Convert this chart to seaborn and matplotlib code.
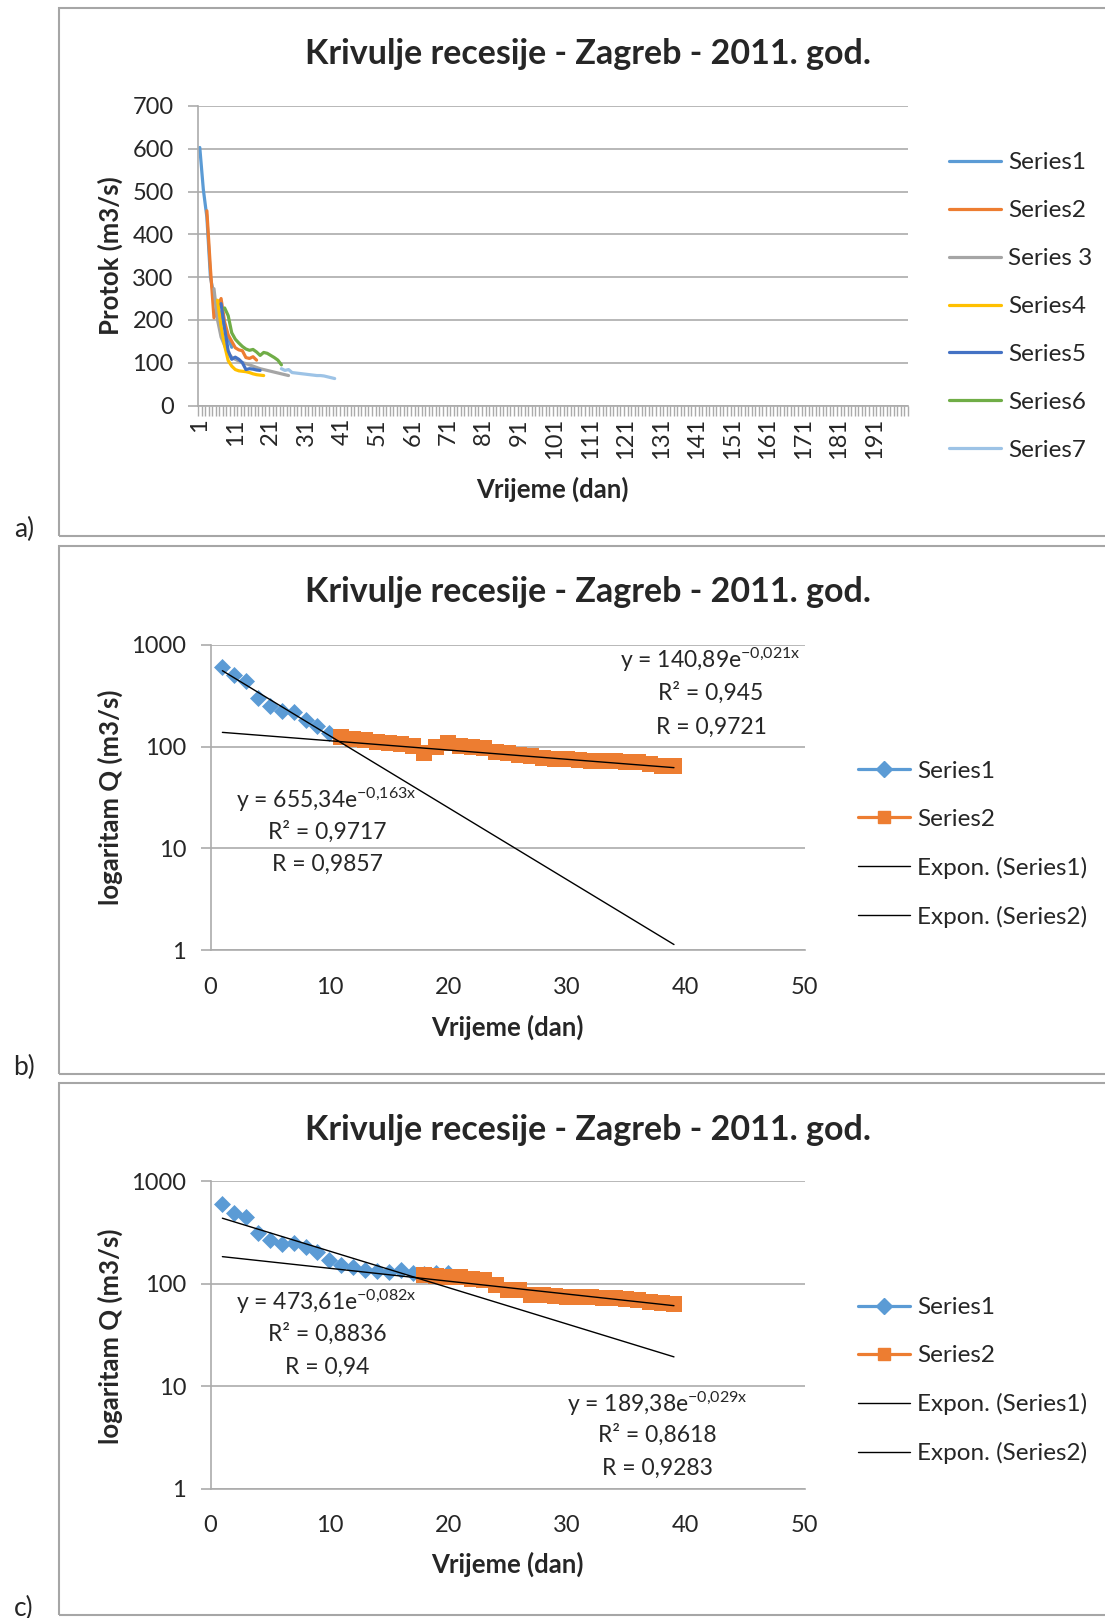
import numpy as np
import pandas as pd
import seaborn as sns
import matplotlib
matplotlib.use('Agg')
import matplotlib.pyplot as plt
from matplotlib.lines import Line2D
from matplotlib.patches import Rectangle

# =========================
# Data
# =========================

# a) recession segments (first day + daily flow)
names_a = ['Series1', 'Series2', 'Series 3', 'Series4', 'Series5', 'Series6', 'Series7']
colors_a = ['#5B9BD5', '#ED7D31', '#A5A5A5', '#FFC000', '#4472C4', '#70AD47', '#9DC3E6']
start_a = [1, 3, 5, 6, 7, 8, 24]
s1_a = [603, 505, 440, 300, 255, 225, 215, 183, 158, 136]
s2_a = [455, 320, 205, 230, 250, 195, 165, 150, 135, 130, 128, 112, 110, 114, 106]
s3_a = [273, 200, 160, 140, 122, 113, 108, 104, 100, 98, 95, 92, 89, 86, 84, 82, 80,
        78, 76, 74, 72, 70]
s4_a = [246, 185, 140, 105, 92, 84, 81, 80, 79, 77, 74, 72, 71, 70]
s5_a = [238, 180, 128, 108, 113, 108, 100, 84, 86, 85, 83, 82]
s6_a = [228, 210, 170, 155, 146, 138, 132, 129, 131, 125, 117, 124, 122, 117, 112, 106, 95]
s7_a = [86, 82, 84, 77, 76, 75, 74, 73, 72, 71, 70, 70, 69, 67, 65, 63]
series_a = [s1_a, s2_a, s3_a, s4_a, s5_a, s6_a, s7_a]
xticks_a = list(range(1, 192, 10))

# b) split at day 10/11
days_b1 = list(range(1, 11))
q_b1 = [610, 505, 440, 300, 252, 225, 220, 183, 158, 136]
days_b2 = list(range(11, 40))
q_b2 = [123, 120, 116, 112, 109, 105, 102, 86, 100, 108, 102, 100, 96, 89, 86, 83, 80,
        78, 76, 75, 74, 73, 72, 72, 71, 70, 67, 65, 64]
fit_b = [(655.34, -0.163), (140.89, -0.021)]

# c) split at day 17/18
days_c1 = list(range(1, 21))
q_c1 = [601, 488, 452, 311, 268, 245, 248, 230, 206, 171, 152, 145, 136, 134, 131, 136,
        128, 125, 127, 127]
days_c2 = list(range(18, 40))
q_c2 = [122, 118, 117, 117, 111, 110, 97, 87, 87, 78, 77, 76, 75, 74, 74, 73, 72, 71,
        69, 67, 65, 64]
fit_c = [(473.61, -0.082), (189.38, -0.029)]

# =========================
# Style
# =========================
sns.set_theme(style='white')
plt.rcParams['font.family'] = ['Lato', 'DejaVu Sans']
plt.rcParams['mathtext.fontset'] = 'custom'
plt.rcParams['mathtext.rm'] = 'Lato'
plt.rcParams['mathtext.default'] = 'regular'

W, H = 1105, 1618
GRID = '#ABABAB'
BLUE, ORANGE = '#5B9BD5', '#ED7D31'
FS_TICK, FS_LAB, FS_TITLE, FS_LEG, FS_NOTE = 17, 18.5, 24.5, 17.5, 16.5

fig = plt.figure(figsize=(W / 100, H / 100), dpi=100)


def px_axes(left, top, right, bottom):
    return fig.add_axes([left / W, 1 - bottom / H, (right - left) / W, (bottom - top) / H])


def ftext(x, y, s, **kw):
    fig.text(x / W, 1 - y / H, s, ha='center', va='center', **kw)


def style_axes(ax):
    for side in ['top', 'right']:
        ax.spines[side].set_visible(False)
    for side in ['left', 'bottom']:
        ax.spines[side].set_color(GRID)
        ax.spines[side].set_linewidth(1.2)
    ax.yaxis.grid(True, color=GRID, linewidth=1.2)
    ax.xaxis.grid(False)
    ax.set_xlabel('')
    ax.set_ylabel('')
    ax.tick_params(axis='y', which='both', length=7, width=1.2, color=GRID,
                   pad=10.5, labelsize=FS_TICK, left=True)


def add_legend(ax, handles, labels, x, yc):
    ax.legend(handles, labels, loc='center left', bbox_to_anchor=(x / W, 1 - yc / H),
              bbox_transform=fig.transFigure, frameon=False, fontsize=FS_LEG,
              handlelength=2.15, handletextpad=0.28, labelspacing=1.11,
              borderpad=0, borderaxespad=0)


# panel frames and letters
for top, bottom, letter in [(8, 536, 'a)'), (546, 1074, 'b)'), (1083, 1615, 'c)')]:
    fig.add_artist(Rectangle((59 / W, 1 - bottom / H), (W + 10 - 59) / W, (bottom - top) / H,
                             transform=fig.transFigure, fill=False,
                             edgecolor='#A6A6A6', linewidth=1.5))
    ftext(24, bottom - 7, letter, fontsize=19)

title = 'Krivulje recesije - Zagreb - 2011. god.'

# =========================
# a) line chart
# =========================
rows = []
for name, start, vals in zip(names_a, start_a, series_a):
    for i, v in enumerate(vals):
        rows.append({'day': start + i, 'Q': v, 'series': name})
df_a = pd.DataFrame(rows)

ax = px_axes(198, 106, 908, 405.5)
sns.lineplot(data=df_a, x='day', y='Q', hue='series', hue_order=names_a,
             palette=colors_a, linewidth=2.3, legend=False, ax=ax)
ax.set_xlim(0.72, 200.5)
ax.set_ylim(0, 700)
ax.set_yticks(range(0, 701, 100))
style_axes(ax)
ax.set_xticks(xticks_a)
ax.set_xticks(np.arange(0.5, 201, 1), minor=True)
ax.set_xticklabels([str(t) for t in xticks_a], rotation=90)
ax.tick_params(axis='x', which='both', length=7, width=1, color=GRID, pad=4,
               labelsize=FS_TICK, bottom=True)
ax.tick_params(axis='x', which='major', length=0, pad=9)

ftext(588, 54, title, fontsize=FS_TITLE, fontweight='bold')
ftext(110, 256, 'Protok (m3/s)', fontsize=FS_LAB, fontweight='bold', rotation=90)
ftext(552, 489, 'Vrijeme (dan)', fontsize=FS_LAB, fontweight='bold')

handles = [Line2D([0], [0], color=c, lw=2.3) for c in colors_a]
add_legend(ax, handles, names_a, 949, 306.5)


# =========================
# b) and c) log charts with exponential trends
# =========================
def log_panel(top, bottom, d1, q1, d2, q2, fits):
    ax = px_axes(210.5, top, 804.7, bottom)
    sns.scatterplot(x=d1, y=q1, marker='D', s=75, color=BLUE, edgecolor=BLUE,
                    linewidth=0, ax=ax, zorder=3)
    sns.scatterplot(x=d2, y=q2, marker='s', s=120, color=ORANGE, edgecolor=ORANGE,
                    linewidth=0, ax=ax, zorder=4)
    xt = np.linspace(1, 39, 60)
    for a, k in fits:
        sns.lineplot(x=xt, y=a * np.exp(k * xt), color='black', linewidth=1.0,
                     ax=ax, zorder=5)
    ax.set_yscale('log')
    ax.set_xlim(0, 50)
    ax.set_ylim(1, 1000)
    ax.set_yticks([1, 10, 100, 1000])
    ax.set_yticklabels(['1', '10', '100', '1000'])
    ax.minorticks_off()
    ax.set_xticks(range(0, 51, 10))
    style_axes(ax)
    ax.tick_params(axis='x', length=0, pad=19, labelsize=FS_TICK)
    handles = [Line2D([0], [0], color=BLUE, lw=2.3, marker='D', markersize=8),
               Line2D([0], [0], color=ORANGE, lw=2.3, marker='s', markersize=9),
               Line2D([0], [0], color='black', lw=1.0),
               Line2D([0], [0], color='black', lw=1.0)]
    labels = ['Series1', 'Series2', 'Expon. (Series1)', 'Expon. (Series2)']
    add_legend(ax, handles, labels, 858, top + 199.5)
    return ax


log_panel(644.8, 950.2, days_b1, q_b1, days_b2, q_b2, fit_b)
ftext(588, 592, title, fontsize=FS_TITLE, fontweight='bold')
ftext(110, 797.5, 'logaritam Q (m3/s)', fontsize=FS_LAB, fontweight='bold', rotation=90)
ftext(507.6, 1027.5, 'Vrijeme (dan)', fontsize=FS_LAB, fontweight='bold')
ftext(710, 660, r'y = 140,89e$^{-0{,}021x}$', fontsize=FS_NOTE)
ftext(711, 693, 'R² = 0,945', fontsize=FS_NOTE)
ftext(711, 727, 'R = 0,9721', fontsize=FS_NOTE)
ftext(326, 800, r'y = 655,34e$^{-0{,}163x}$', fontsize=FS_NOTE)
ftext(327, 831.5, 'R² = 0,9717', fontsize=FS_NOTE)
ftext(327, 864.5, 'R = 0,9857', fontsize=FS_NOTE)

log_panel(1181.3, 1488.7, days_c1, q_c1, days_c2, q_c2, fit_c)
ftext(588, 1129.6, title, fontsize=FS_TITLE, fontweight='bold')
ftext(110, 1336, 'logaritam Q (m3/s)', fontsize=FS_LAB, fontweight='bold', rotation=90)
ftext(507.6, 1564, 'Vrijeme (dan)', fontsize=FS_LAB, fontweight='bold')
ftext(326, 1302, r'y = 473,61e$^{-0{,}082x}$', fontsize=FS_NOTE)
ftext(327, 1334, 'R² = 0,8836', fontsize=FS_NOTE)
ftext(327, 1367, 'R = 0,94', fontsize=FS_NOTE)
ftext(657, 1404, r'y = 189,38e$^{-0{,}029x}$', fontsize=FS_NOTE)
ftext(657, 1435, 'R² = 0,8618', fontsize=FS_NOTE)
ftext(657, 1468, 'R = 0,9283', fontsize=FS_NOTE)

fig.savefig('out.png', dpi=100)
